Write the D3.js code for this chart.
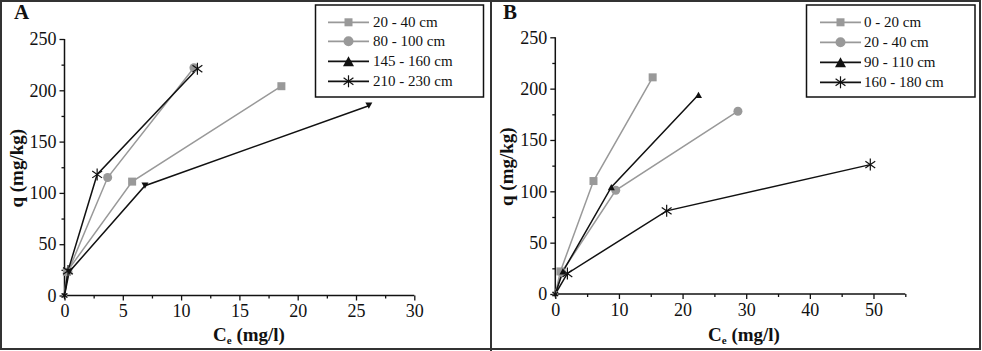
<!DOCTYPE html>
<html><head><meta charset="utf-8">
<script src="https://cdn.jsdelivr.net/npm/d3@7"></script>
<style>body{margin:0;background:#fff}svg{display:block}text{font-family:"Liberation Serif","DejaVu Serif",serif}</style>
</head><body><svg id="c" width="982" height="351"></svg>
<script>
// ---- Data ----
const namesA = ["20 - 40 cm", "80 - 100 cm", "145 - 160 cm", "210 - 230 cm"];
const a1x = [0, 0.2, 5.8, 18.6],  a1y = [0, 23, 111, 204];
const a2x = [0, 0.3, 3.7, 11.1],  a2y = [0, 23, 115, 222];
const a3x = [0, 0.4, 6.9, 26.1],  a3y = [0, 23, 107, 185];
const a4x = [0, 0.3, 2.8, 11.4],  a4y = [0, 24, 118, 221];

const namesB = ["0 - 20 cm", "20 - 40 cm", "90 - 110 cm", "160 - 180 cm"];
const b1x = [0, 0.8, 6.0, 15.3],  b1y = [0, 22, 110, 211];
const b2x = [0, 1.0, 9.5, 28.7],  b2y = [0, 21, 101, 178];
const b3x = [0, 1.2, 8.8, 22.5],  b3y = [0, 22, 104, 194];
const b4x = [0, 1.9, 17.5, 49.5], b4y = [0, 20, 81, 126];

const xTicksA = [0, 5, 10, 15, 20, 25, 30];
const xTicksB = [0, 10, 20, 30, 40, 50];
const yTicks = [0, 50, 100, 150, 200, 250];

const GRAY = "#999", BLACK = "#111";
const SERIF = '"Liberation Serif", "DejaVu Serif", serif';
const svg = d3.select("#c");

// frame
svg.append("rect").attr("x", 1).attr("y", 1).attr("width", 979).attr("height", 348)
  .attr("fill", "none").attr("stroke", "#333").attr("stroke-width", 2);
svg.append("line").attr("x1", 491).attr("x2", 491).attr("y1", 0).attr("y2", 351)
  .attr("stroke", "#333").attr("stroke-width", 2);

function marker(g, type, cx, cy, color, s) {
  if (type === "square") {
    g.append("rect").attr("x", cx - s/2).attr("y", cy - s/2).attr("width", s).attr("height", s).attr("fill", color);
  } else if (type === "circle") {
    g.append("circle").attr("cx", cx).attr("cy", cy).attr("r", s/2).attr("fill", color);
  } else if (type === "tri" || type === "tridown") {
    const d = type === "tri" ? 1 : -1;
    const h = s * 0.9;
    g.append("path").attr("d", `M${cx - s/2},${cy + d*h/2}L${cx + s/2},${cy + d*h/2}L${cx},${cy - d*h/2}Z`).attr("fill", color);
  } else if (type === "star") {
    const r = s/2;
    [90, 35, 145].forEach(a => {
      const rad = a * Math.PI / 180;
      g.append("line").attr("x1", cx - r*Math.cos(rad)).attr("y1", cy - r*Math.sin(rad))
        .attr("x2", cx + r*Math.cos(rad)).attr("y2", cy + r*Math.sin(rad))
        .attr("stroke", color).attr("stroke-width", 1.2);
    });
  }
}

function panel(opt) {
  const g = svg.append("g");
  const x = d3.scaleLinear().domain(opt.xdom).range(opt.xr);
  const y = d3.scaleLinear().domain([0, 250]).range(opt.yr);

  const xa = g.append("g").attr("transform", `translate(0,${opt.yr[0]})`)
    .call(d3.axisBottom(x).tickValues(opt.xTicks).tickSize(5).tickPadding(4).tickFormat(d3.format("d")));
  const xm = g.append("g").attr("transform", `translate(0,${opt.yr[0]})`)
    .call(d3.axisBottom(x).tickValues(opt.xMinor).tickSize(3).tickFormat(""));
  const ya = g.append("g").attr("transform", `translate(${opt.xr[0]},0)`)
    .call(d3.axisLeft(y).tickValues(yTicks).tickSize(5).tickPadding(3).tickFormat(d3.format("d")));
  const ym = g.append("g").attr("transform", `translate(${opt.xr[0]},0)`)
    .call(d3.axisLeft(y).tickValues([25, 75, 125, 175, 225]).tickSize(3).tickFormat(""));
  [xa, xm, ya, ym].forEach(a => {
    a.attr("font-family", SERIF);
    a.select(".domain").attr("stroke", "#111").attr("stroke-width", 1.5);
    a.selectAll(".tick line").attr("stroke", "#111").attr("stroke-width", 1.3);
    a.selectAll("text").style("font-family", SERIF).attr("font-size", 18).attr("fill", "#111");
  });
  xa.select(".domain").attr("d", `M${opt.xr[0]},0H${opt.xr[1]}`);
  xm.select(".domain").remove();
  ym.select(".domain").remove();
  ya.select(".domain").attr("d", `M0,${opt.yr[0]}V${opt.yr[1]}`);

  opt.series.forEach(s => {
    const pts = s.xs.map((v, i) => [x(v), y(s.ys[i])]);
    g.append("path").attr("d", d3.line()(pts)).attr("fill", "none")
      .attr("stroke", s.color).attr("stroke-width", 1.5);
  });
  opt.series.forEach(s => {
    s.xs.forEach((v, i) => marker(g, s.plotMarker, x(v), y(s.ys[i]), s.color, i === 0 ? s.ms * 0.6 : s.ms));
  });

  g.append("text").attr("x", opt.label[0]).attr("y", opt.label[1]).attr("font-size", 21)
    .attr("font-weight", "bold").attr("fill", "#111").text(opt.name);
  g.append("text").attr("transform", `translate(${opt.xr[0] - 42},${(opt.yr[0] + opt.yr[1]) / 2 + 1}) rotate(-90)`)
    .attr("text-anchor", "middle").attr("font-size", 19).attr("font-weight", "bold").attr("fill", "#111")
    .text("q (mg/kg)");
  const xt = g.append("text").attr("x", opt.xtitle).attr("y", 341).attr("text-anchor", "middle")
    .attr("font-size", 19).attr("font-weight", "bold").attr("fill", "#111");
  xt.append("tspan").text("C");
  xt.append("tspan").attr("font-size", 11).attr("dy", 3).text("e");
  xt.append("tspan").attr("dy", -3).text(" (mg/l)");

  const L = opt.legend;
  g.append("rect").attr("x", L.x).attr("y", 5).attr("width", L.w).attr("height", 92)
    .attr("fill", "#fff").attr("stroke", "#111").attr("stroke-width", 1.5);
  opt.series.forEach((s, i) => {
    const ly = L.ys[i];
    g.append("line").attr("x1", L.l1).attr("x2", L.l2).attr("y1", ly).attr("y2", ly)
      .attr("stroke", s.color).attr("stroke-width", 1.8);
    marker(g, s.legMarker, (L.l1 + L.l2) / 2, ly, s.color, s.lms);
    g.append("text").attr("x", L.tx).attr("y", ly + 5).attr("font-size", 15).attr("fill", "#111").text(s.name);
  });
}

panel({
  name: "A", label: [14, 19],
  xdom: [0, 30], xr: [64.5, 414.3], yr: [295.5, 39],
  xTicks: xTicksA, xMinor: [2.5, 7.5, 12.5, 17.5, 22.5, 27.5],
  xtitle: 249,
  legend: {x: 315.5, w: 168, ys: [22.3, 41.3, 61.3, 81.3], l1: 328, l2: 369, tx: 373},
  series: [
    {name: namesA[0], xs: a1x, ys: a1y, color: GRAY, plotMarker: "square", legMarker: "square", ms: 8, lms: 8},
    {name: namesA[1], xs: a2x, ys: a2y, color: GRAY, plotMarker: "circle", legMarker: "circle", ms: 9, lms: 10},
    {name: namesA[2], xs: a3x, ys: a3y, color: BLACK, plotMarker: "tridown", legMarker: "tri", ms: 7, lms: 11},
    {name: namesA[3], xs: a4x, ys: a4y, color: BLACK, plotMarker: "star", legMarker: "star", ms: 12, lms: 12}
  ]
});

panel({
  name: "B", label: [503, 19],
  xdom: [0, 55], xr: [555.3, 905.3], yr: [294, 37.3],
  xTicks: xTicksB, xMinor: [5, 15, 25, 35, 45, 55],
  xtitle: 744,
  legend: {x: 806.5, w: 168.5, ys: [22.3, 42.3, 62.3, 82.3], l1: 820, l2: 861, tx: 864},
  series: [
    {name: namesB[0], xs: b1x, ys: b1y, color: GRAY, plotMarker: "square", legMarker: "square", ms: 8, lms: 8},
    {name: namesB[1], xs: b2x, ys: b2y, color: GRAY, plotMarker: "circle", legMarker: "circle", ms: 9, lms: 10},
    {name: namesB[2], xs: b3x, ys: b3y, color: BLACK, plotMarker: "tri", legMarker: "tri", ms: 7, lms: 11},
    {name: namesB[3], xs: b4x, ys: b4y, color: BLACK, plotMarker: "star", legMarker: "star", ms: 12, lms: 12}
  ]
});
</script></body></html>
